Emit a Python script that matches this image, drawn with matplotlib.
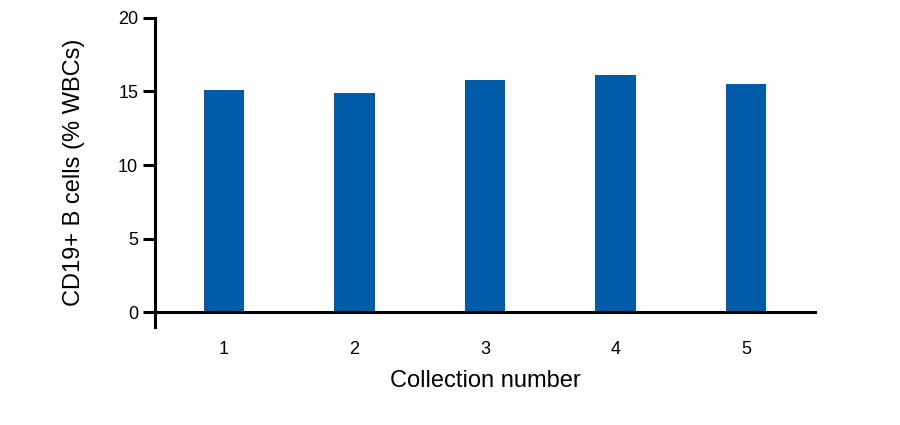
import numpy as np
import matplotlib.pyplot as plt

plt.rcParams['font.family'] = ['Liberation Sans', 'DejaVu Sans']

collections = ['1', '2', '3', '4', '5']
cd19_pct = [15.1, 14.9, 15.75, 16.1, 15.5]

fig = plt.figure(figsize=(9, 4.25), dpi=100)
ax = fig.add_axes([0.172, 0.2306, 0.734, 0.7274])

x = np.arange(len(collections))
ax.bar(x, cd19_pct, width=0.31, color='#005BA8')

ax.set_xlim(-0.53, 4.53)
ax.set_ylim(-1, 20)
ax.set_yticks([0, 5, 10, 15, 20])
ax.set_xticks(x)
ax.set_xticklabels(collections)

for s in ['top', 'right']:
    ax.spines[s].set_visible(False)
ax.spines['bottom'].set_position(('data', 0))
ax.spines['left'].set_bounds(-1, 20)
ax.spines['left'].set_linewidth(2.2)
ax.spines['bottom'].set_linewidth(2.2)

ax.tick_params(axis='y', length=9, width=2.2, labelsize=13, pad=3)
ax.tick_params(axis='x', length=0, labelsize=13, pad=21)

ax.set_xlabel('Collection number', fontsize=17, labelpad=8)
ax.set_ylabel('CD19+ B cells (% WBCs)', fontsize=17, labelpad=24)

fig.savefig('out.png', dpi=100)
